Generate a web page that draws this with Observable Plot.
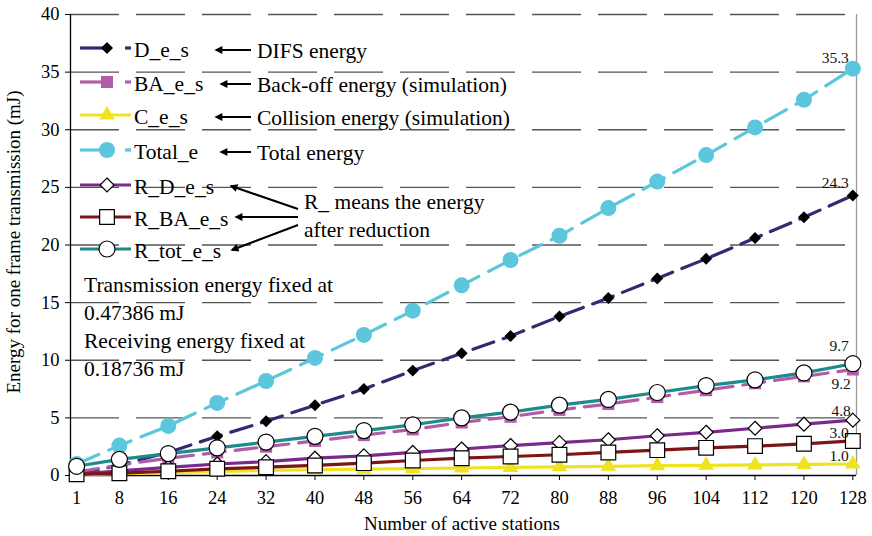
<!DOCTYPE html>
<html>
<head>
<meta charset="utf-8">
<script src="https://cdn.jsdelivr.net/npm/d3@7"></script>
<script src="https://cdn.jsdelivr.net/npm/@observablehq/plot@0.6"></script>
<style>
  body { margin: 0; background: #fff; }
  #chart svg { display: block; }
</style>
</head>
<body>
<div id="chart"></div>
<script>
// ---- Data ----
const stations = [1, 8, 16, 24, 32, 40, 48, 56, 64, 72, 80, 88, 96, 104, 112, 120, 128];
const D_e_s    = [0.1, 0.9, 2.0, 3.4, 4.7, 6.1, 7.5, 9.1, 10.6, 12.1, 13.8, 15.4, 17.1, 18.8, 20.6, 22.4, 24.3];
const BA_e_s   = [0.3, 0.9, 1.5, 2.0, 2.5, 3.0, 3.5, 4.0, 4.6, 5.1, 5.7, 6.2, 6.8, 7.4, 8.0, 8.6, 9.2];
const C_e_s    = [0.05, 0.15, 0.25, 0.35, 0.45, 0.5, 0.55, 0.6, 0.65, 0.7, 0.75, 0.8, 0.85, 0.88, 0.92, 0.96, 1.0];
const Total_e  = [1.0, 2.6, 4.3, 6.3, 8.2, 10.2, 12.2, 14.3, 16.5, 18.7, 20.8, 23.2, 25.5, 27.8, 30.2, 32.6, 35.3];
const R_D_e_s  = [0.1, 0.4, 0.7, 1.0, 1.2, 1.5, 1.7, 2.0, 2.3, 2.6, 2.85, 3.1, 3.45, 3.75, 4.1, 4.45, 4.8];
const R_BA_e_s = [0.1, 0.2, 0.37, 0.58, 0.72, 0.87, 1.07, 1.3, 1.5, 1.65, 1.8, 2.0, 2.2, 2.4, 2.55, 2.75, 3.0];
const R_tot_e_s= [0.8, 1.4, 1.9, 2.4, 2.9, 3.4, 3.9, 4.4, 5.0, 5.5, 6.1, 6.6, 7.2, 7.8, 8.3, 8.9, 9.7];
const yTicks = [0, 5, 10, 15, 20, 25, 30, 35, 40];
const endLabels = ["35.3", "24.3", "9.7", "9.2", "4.8", "3.0", "1.0"];

const seriesNames = ["D_e_s", "BA_e_s", "C_e_s", "Total_e", "R_D_e_s", "R_BA_e_s", "R_tot_e_s"];
const seriesValues = [D_e_s, BA_e_s, C_e_s, Total_e, R_D_e_s, R_BA_e_s, R_tot_e_s];
const descriptions = ["DIFS energy", "Back-off energy (simulation)", "Collision energy (simulation)", "Total energy"];

// ---- Styles ----
const styles = {
  "D_e_s":     {line: "#302b72", dash: "22,10", symbol: "diamond2", r: 5.4, fill: "#000", stroke: "#000"},
  "BA_e_s":    {line: "#b15ca6", dash: "22,10", symbol: "square",   r: 6.8, fill: "#b15ca6", stroke: "#b15ca6"},
  "C_e_s":     {line: "#efe31f", dash: null,    symbol: "triangle", r: 5.8, fill: "#efe31f", stroke: "#efe31f"},
  "Total_e":   {line: "#5bc6dc", dash: "24,11", symbol: "circle",   r: 8,   fill: "#5bc6dc", stroke: "#5bc6dc"},
  "R_D_e_s":   {line: "#7a2a8c", dash: null,    symbol: "diamond2", r: 6.3, fill: "#fff", stroke: "#000"},
  "R_BA_e_s":  {line: "#7d1517", dash: null,    symbol: "square",   r: 8.3, fill: "#fff", stroke: "#000"},
  "R_tot_e_s": {line: "#1f8a89", dash: null,    symbol: "circle",   r: 8,   fill: "#fff", stroke: "#000"}
};
// end-label offsets (series index, dx, dy)
const labelSeries = [3, 0, 6, 1, 4, 5, 2];
const labelOffsets = [[-4, -11], [-4, -12], [-4, -18], [-2, 15], [-2, -9], [-4, -8], [-4, -8]];

const rows = [];
seriesNames.forEach((name, i) => stations.forEach((s, j) => rows.push({series: name, x: s, y: seriesValues[i][j]})));

const font = "'Liberation Serif', 'Times New Roman', serif";
const marks = [
  Plot.ruleY(yTicks.filter(d => d > 0), {stroke: "#555", strokeWidth: 1.3, strokeDasharray: "49,17"}),
  Plot.ruleX([128.6], {stroke: "#999", strokeWidth: 1.3}),
  Plot.ruleX([0], {stroke: "#000", strokeWidth: 1.3}),
  Plot.ruleY([0], {stroke: "#000", strokeWidth: 1.3}),
  Plot.axisY({ticks: yTicks, tickSize: 5, tickPadding: 6, fontSize: 18.5, label: null}),
  Plot.axisX({ticks: stations, tickSize: 5, tickPadding: 10, fontSize: 18.5, label: null, tickFormat: d => String(d)}),
];
seriesNames.forEach(name => {
  const st = styles[name];
  const data = rows.filter(d => d.series === name);
  marks.push(Plot.line(data, {x: "x", y: "y", stroke: st.line, strokeWidth: 3.2, strokeDasharray: st.dash || undefined}));
  marks.push(Plot.dot(data, {x: "x", y: "y", symbol: st.symbol, r: st.r, fill: st.fill, stroke: st.stroke, strokeWidth: (st.fill === "#fff" ? 1.2 : 0)}));
});
endLabels.forEach((lab, k) => {
  const si = labelSeries[k];
  const vals = seriesValues[si];
  marks.push(Plot.text([{x: stations[stations.length - 1], y: vals[vals.length - 1], t: lab}], {
    x: "x", y: "y", text: "t", textAnchor: "end", dx: labelOffsets[k][0], dy: labelOffsets[k][1], fontSize: 15.5, fill: "#111"
  }));
});

const plot = Plot.plot({
  width: 872,
  height: 536,
  marginLeft: 70,
  marginRight: 16,
  marginTop: 14,
  marginBottom: 61,
  style: {fontFamily: font, color: "#000", background: "#fff"},
  x: {domain: [0, 128.6]},
  y: {domain: [0, 40]},
  marks
});
document.getElementById("chart").appendChild(plot);

// ---- Annotations / legend ----
const svg = d3.select(plot);
const g = svg.append("g").attr("font-family", font).attr("fill", "#000").attr("text-anchor", "start");
const fs = 21.5;

// axis titles
g.append("text").attr("transform", "translate(20,242) rotate(-90)").attr("text-anchor", "middle")
  .attr("font-size", 19).text("Energy for one frame transmission (mJ)");
g.append("text").attr("x", 462).attr("y", 530).attr("text-anchor", "middle")
  .attr("font-size", 19).text("Number of active stations");

const legendY = [48, 82, 115, 150, 185, 217, 249];
const symMap = {diamond2: d3.symbolDiamond2, square: d3.symbolSquare, triangle: d3.symbolTriangle, circle: d3.symbolCircle};
seriesNames.forEach((name, i) => {
  const st = styles[name];
  const y = legendY[i];
  if (st.dash) {
    g.append("line").attr("x1", 80).attr("x2", 103).attr("y1", y).attr("y2", y).attr("stroke", st.line).attr("stroke-width", 3.2);
    g.append("line").attr("x1", 125).attr("x2", 131).attr("y1", y).attr("y2", y).attr("stroke", st.line).attr("stroke-width", 3.2);
  } else {
    g.append("line").attr("x1", 80).attr("x2", 131).attr("y1", y).attr("y2", y).attr("stroke", st.line).attr("stroke-width", 3.2);
  }
  g.append("path").attr("transform", `translate(107,${y})`)
    .attr("d", d3.symbol(symMap[st.symbol], Math.PI * st.r * st.r)())
    .attr("fill", st.fill).attr("stroke", st.stroke).attr("stroke-width", st.fill === "#fff" ? 1.2 : 0);
  g.append("text").attr("x", 134).attr("y", y + 1).attr("dy", "0.35em").attr("font-size", fs).text(name);
});

// arrow marker (tip points along the line's direction)
const defs = svg.append("defs");
defs.append("marker").attr("id", "arr").attr("viewBox", "0 0 10 10").attr("refX", 8).attr("refY", 5)
  .attr("markerWidth", 4.5).attr("markerHeight", 4).attr("orient", "auto")
  .append("path").attr("d", "M0,0 L10,5 L0,10 z").attr("fill", "#000");

const arrowRows = [[216, 50], [221, 84], [216, 117], [221, 152]];
descriptions.forEach((desc, i) => {
  const [ax, ay] = arrowRows[i];
  g.append("line").attr("x1", 251).attr("y1", ay).attr("x2", ax).attr("y2", ay)
    .attr("stroke", "#000").attr("stroke-width", 2).attr("marker-end", "url(#arr)");
  g.append("text").attr("x", 257).attr("y", legendY[i] + 2).attr("dy", "0.35em").attr("font-size", fs).text(desc);
});

g.append("text").attr("x", 304).attr("y", 201).attr("dy", "0.35em").attr("font-size", fs).text("R_ means the energy");
g.append("text").attr("x", 304).attr("y", 229).attr("dy", "0.35em").attr("font-size", fs).text("after reduction");
[[231, 186, 298, 209], [236, 217, 298, 217], [232, 250, 298, 225]].forEach(([x2, y2, x1, y1]) => {
  g.append("line").attr("x1", x1).attr("y1", y1).attr("x2", x2).attr("y2", y2)
    .attr("stroke", "#000").attr("stroke-width", 2).attr("marker-end", "url(#arr)");
});

const notes = ["Transmission energy fixed at", "0.47386 mJ", "Receiving energy fixed at", "0.18736 mJ"];
const noteY = [284, 312, 340, 368];
notes.forEach((t, i) => g.append("text").attr("x", 84).attr("y", noteY[i]).attr("dy", "0.35em").attr("font-size", fs).text(t));
</script>
</body>
</html>
